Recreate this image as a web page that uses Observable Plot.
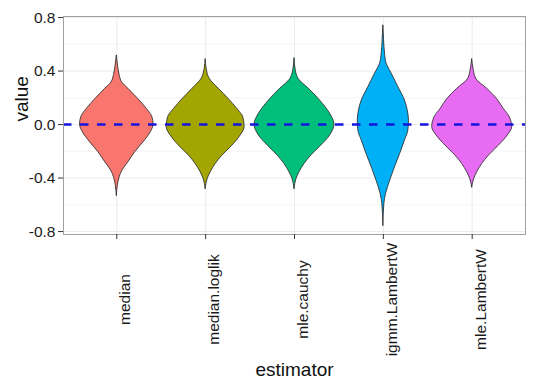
<!DOCTYPE html>
<html>
<head>
<meta charset="utf-8">
<script src="https://cdn.jsdelivr.net/npm/d3@7"></script>
<script src="https://cdn.jsdelivr.net/npm/@observablehq/plot@0.6"></script>
<style>
  html, body { margin: 0; padding: 0; background: #fff; }
</style>
</head>
<body>
<div id="chart"></div>
<script>
// Categories and colours
const estimators = ["median", "median.loglik", "mle.cauchy", "igmm.LambertW", "mle.LambertW"];
const colors = ["#F8766D", "#A3A500", "#00BF7D", "#00B0F6", "#E76BF3"];

// Violin profiles: [value, relative density]
const medianProfile = [[0.517,0],[0.44,0.03],[0.37,0.07],[0.317,0.13],[0.267,0.29],[0.19,0.54],[0.117,0.75],[0.055,0.89],[0.0,0.92],[-0.057,0.85],[-0.132,0.67],[-0.207,0.46],[-0.282,0.29],[-0.345,0.14],[-0.395,0.07],[-0.457,0.025],[-0.532,0]];
const medianLoglikProfile = [[0.49,0],[0.417,0.025],[0.342,0.10],[0.267,0.33],[0.19,0.58],[0.117,0.79],[0.055,0.94],[-0.02,0.975],[-0.082,0.875],[-0.157,0.67],[-0.232,0.42],[-0.295,0.25],[-0.357,0.125],[-0.407,0.05],[-0.482,0]];
const mleCauchyProfile = [[0.497,0],[0.417,0.025],[0.342,0.10],[0.267,0.36],[0.19,0.61],[0.117,0.81],[0.055,0.94],[0.0,1.0],[-0.082,0.89],[-0.157,0.67],[-0.232,0.42],[-0.295,0.25],[-0.357,0.125],[-0.407,0.05],[-0.482,0]];
const igmmLambertWProfile = [[0.742,0],[0.63,0.018],[0.53,0.042],[0.455,0.083],[0.38,0.21],[0.28,0.375],[0.18,0.54],[0.105,0.61],[0.03,0.64],[-0.045,0.625],[-0.12,0.54],[-0.22,0.42],[-0.32,0.29],[-0.42,0.17],[-0.52,0.067],[-0.594,0.025],[-0.757,0]];
const mleLambertWProfile = [[0.49,0],[0.417,0.033],[0.342,0.10],[0.267,0.375],[0.19,0.625],[0.117,0.79],[0.055,0.94],[-0.02,1.0],[-0.082,0.89],[-0.157,0.67],[-0.232,0.42],[-0.295,0.25],[-0.357,0.125],[-0.407,0.05],[-0.47,0]];

const profiles = [medianProfile, medianLoglikProfile, mleCauchyProfile, igmmLambertWProfile, mleLambertWProfile];

// Axis ticks
const yTicks = [-0.8, -0.4, 0.0, 0.4, 0.8];
const yMinor = [-0.6, -0.2, 0.2, 0.6];
const refLine = [0];

// Build table
const rows = [];
estimators.forEach((e, i) => {
  profiles[i].slice().sort((a, b) => a[0] - b[0]).forEach(([v, d]) => {
    rows.push({estimator: e, pos: i + 1, value: v, dens: d});
  });
});
const positions = estimators.map((e, i) => i + 1);
const halfMax = 0.45;

const chart = Plot.plot({
  width: 540,
  height: 386,
  marginLeft: 63,
  marginRight: 15,
  marginTop: 16,
  marginBottom: 152,
  style: {fontFamily: "'Liberation Sans', Arial, sans-serif", background: "#fff", color: "#1a1a1a"},
  x: {domain: [0.4, 5.6], axis: null},
  y: {domain: [-0.822, 0.808], axis: null},
  color: {domain: estimators, range: colors},
  marks: [
    Plot.gridY(yMinor, {stroke: "#f5f5f5", strokeOpacity: 1, strokeWidth: 1}),
    Plot.gridY(yTicks, {stroke: "#ebebeb", strokeOpacity: 1, strokeWidth: 1}),
    Plot.gridX(positions, {stroke: "#ebebeb", strokeOpacity: 1, strokeWidth: 1}),
    Plot.areaX(rows, {
      y: "value",
      x1: r => r.pos - halfMax * r.dens,
      x2: r => r.pos + halfMax * r.dens,
      z: "estimator",
      fill: "estimator",
      stroke: "#2a2a2a",
      strokeWidth: 0.85,
      curve: "monotone-y"
    }),
    Plot.ruleY(refLine, {stroke: "#1414e0", strokeWidth: 2.4, strokeDasharray: "8.5,8.5"}),
    Plot.frame({stroke: "#a0a0a0", strokeWidth: 1}),
    Plot.axisY(yTicks, {
      tickSize: 5, tickPadding: 3, fontSize: 15.5, stroke: "#333",
      tickFormat: d => d.toFixed(1), label: null, fill: "#1a1a1a"
    }),
    Plot.axisX(positions, {tickSize: 5, tickFormat: () => "", label: null, stroke: "#333"}),
    Plot.text(estimators, {
      x: (d, i) => i + 1,
      frameAnchor: "bottom",
      rotate: -90,
      textAnchor: "middle",
      lineAnchor: "bottom",
      dx: 13.5,
      dy: 65,
      fontSize: 15.5,
      fill: "#1a1a1a"
    }),
    Plot.text(["estimator"], {frameAnchor: "bottom", lineAnchor: "bottom", dy: 141, fontSize: 19, fill: "#111"}),
    Plot.text(["value"], {frameAnchor: "left", rotate: -90, lineAnchor: "bottom", dx: -36, dy: -4, fontSize: 19, fill: "#111"})
  ]
});
document.getElementById("chart").appendChild(chart);
</script>
</body>
</html>
